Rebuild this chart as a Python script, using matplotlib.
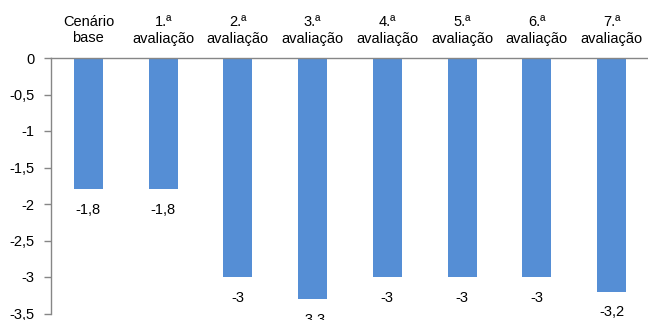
import matplotlib
matplotlib.use("Agg")
import matplotlib.pyplot as plt
import numpy as np

categories = ["Cenário\nbase", "1.ª\navaliação", "2.ª\navaliação", "3.ª\navaliação",
              "4.ª\navaliação", "5.ª\navaliação", "6.ª\navaliação", "7.ª\navaliação"]
values = [-1.8, -1.8, -3.0, -3.3, -3.0, -3.0, -3.0, -3.2]
yticks = [0, -0.5, -1, -1.5, -2, -2.5, -3, -3.5]


def fmt(v):
    s = f"{v:g}"
    return s.replace(".", ",")


plt.rcParams["font.family"] = ["Liberation Sans", "DejaVu Sans"]

fig = plt.figure(figsize=(6.48, 3.2), dpi=100)
ax = fig.add_axes([51 / 648, 6.5 / 320, 598 / 648, 255.5 / 320])

x = np.arange(len(categories))
bar_color = "#558ED5"
ax.bar(x, values, width=0.39, color=bar_color)

# value labels sit just below the end of each bar
for xi, v in zip(x, values):
    ax.annotate(fmt(v), (xi, v), xytext=(0, -15), textcoords="offset points",
                ha="center", va="center", fontsize=10.5, color="#000000",
                annotation_clip=False)

ax.set_xlim(-0.5, len(categories) - 0.5)
ax.set_ylim(-3.5, 0)
ax.set_yticks(yticks)
ax.set_yticklabels([fmt(t) for t in yticks], fontsize=10.5)

ax.xaxis.tick_top()
ax.set_xticks(x)
ax.set_xticklabels(categories, fontsize=10.5, linespacing=1.2)
ax.tick_params(axis="x", length=0, pad=9)
ax.tick_params(axis="y", length=5, width=1, color="#868686", pad=7)

for side in ["right", "bottom"]:
    ax.spines[side].set_visible(False)
for side in ["left", "top"]:
    ax.spines[side].set_color("#868686")
    ax.spines[side].set_linewidth(1)

fig.savefig("out.png", dpi=100)
